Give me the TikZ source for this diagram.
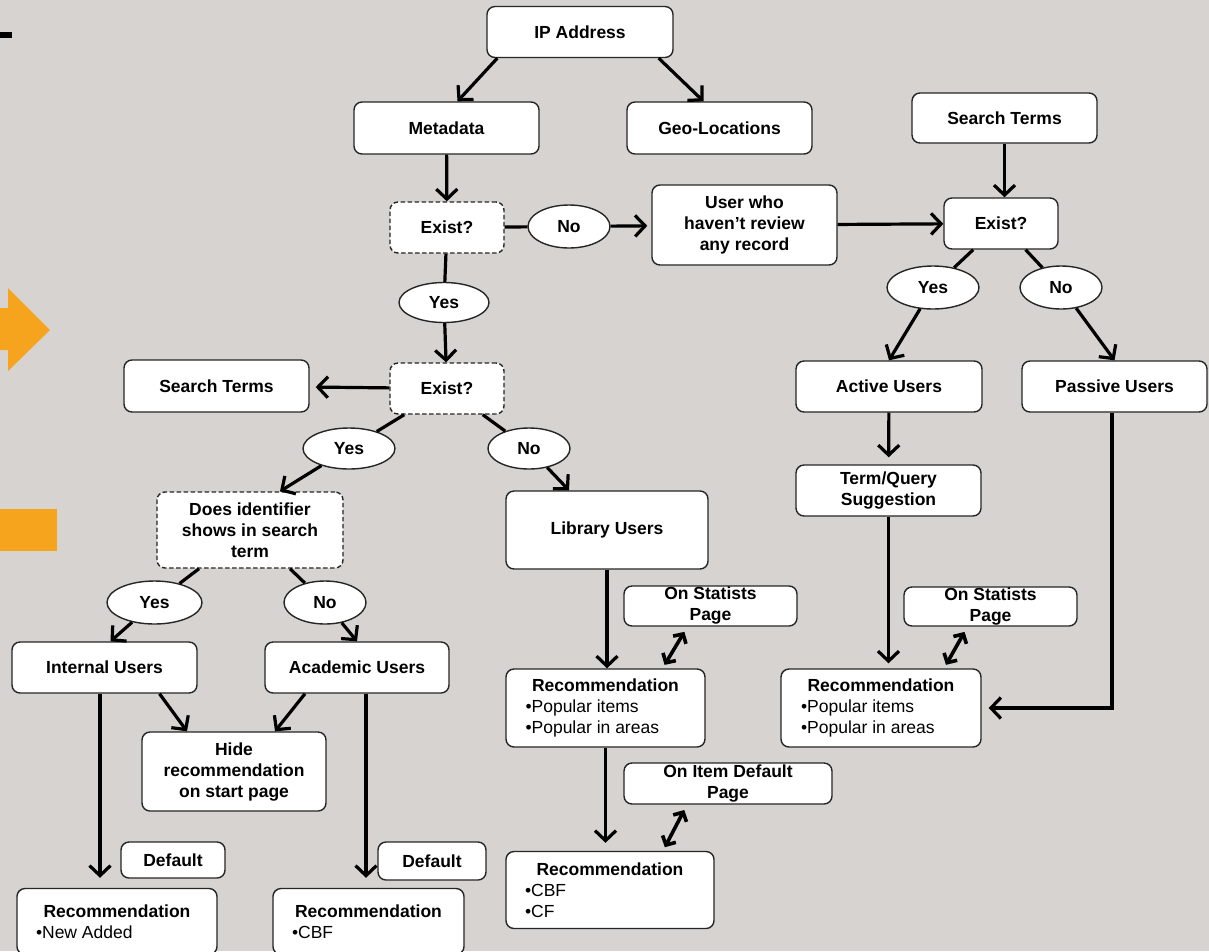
\documentclass[tikz,border=0pt]{standalone}
\usepackage{fontspec}
\setmainfont{Liberation Sans}
\usepackage{xcolor}
\usepackage{tikz}
\usetikzlibrary{arrows.meta,shapes.geometric}
\definecolor{slide}{RGB}{214,211,208}
\definecolor{accent}{RGB}{246,164,30}
\newcommand{\recbody}[2]{\parbox{#1}{\centering\textbf{Recommendation}\par\raggedright#2}}
\tikzset{
  box/.style={draw=black!85,fill=white,line width=1.4pt,rounded corners=8pt,inner sep=0pt,align=center,
    font=\fontsize{17.5}{21}\selectfont\bfseries},
  qbox/.style={box,dash pattern=on 4.5pt off 2.5pt},
  recbox/.style={box,font=\fontsize{17.5}{21}\selectfont},
  oval/.style={ellipse,draw=black!85,fill=white,line width=1.4pt,inner sep=0pt,minimum height=43pt,
    font=\fontsize{17.5}{21}\selectfont\bfseries},
  link/.style={line width=3.2pt},
  flow/.style={link,-{Straight Barb[length=10pt,width=21pt]}},
  twoway/.style={line width=3.6pt,{Straight Barb[length=7pt,width=15pt]}-{Straight Barb[length=7pt,width=15pt]},
    shorten <=4pt,shorten >=6pt}
}
\begin{document}
\begin{tikzpicture}[x=1pt,y=-1pt]
  \useasboundingbox (0,0) rectangle (1209,951);
  \clip (0,0) rectangle (1209,951);
  \fill[slide] (0,0) rectangle (1209,951);
  \fill[black] (0,32) rectangle (12,38);
  \fill[accent] (0,308) -- (8,308) -- (8,288) -- (50,330) -- (8,371) -- (8,350) -- (0,350) -- cycle;
  \fill[accent] (0,509) rectangle (57,551);

  \node[box,minimum width=186pt,minimum height=51pt] (ip) at (580,32) {IP Address};
  \node[box,minimum width=185pt,minimum height=52pt] (meta) at (446.5,128) {Metadata};
  \node[box,minimum width=185pt,minimum height=52pt] (geo) at (719.5,128) {Geo-Locations};
  \node[qbox,minimum width=114pt,minimum height=51pt] (exA) at (447,227.5) {Exist?};
  \node[oval,minimum width=82pt] (noA) at (569,226.5) {No};
  \node[box,minimum width=185pt,minimum height=80pt] (guest) at (744.5,225) {User who\\haven’t review\\any record};
  \node[box,minimum width=185pt,minimum height=50pt] (termR) at (1004.5,118) {Search Terms};
  \node[box,minimum width=114pt,minimum height=51pt] (exR) at (1001,223.5) {Exist?};
  \node[oval,minimum width=92pt] (yesR) at (933,287.5) {Yes};
  \node[oval,minimum width=82pt] (noR) at (1061,287.5) {No};
  \node[box,minimum width=186pt,minimum height=51pt] (active) at (889,386.5) {Active Users};
  \node[box,minimum width=185pt,minimum height=51pt] (passive) at (1114.5,386.5) {Passive Users};
  \node[oval,minimum width=90pt,minimum height=40pt] (yesA) at (444,302.5) {Yes};
  \node[qbox,minimum width=114pt,minimum height=51pt] (exB) at (447,388.5) {Exist?};
  \node[box,minimum width=185pt,minimum height=52pt] (termL) at (216.5,386) {Search Terms};
  \node[oval,minimum width=92pt,minimum height=41pt] (yesB) at (349,448.5) {Yes};
  \node[oval,minimum width=82pt,minimum height=41pt] (noB) at (529,448.5) {No};
  \node[qbox,minimum width=186pt,minimum height=76pt] (ident) at (250,530) {Does identifier\\shows in search\\term};
  \node[box,minimum width=202pt,minimum height=78pt] (library) at (607,530) {Library Users};
  \node[oval,minimum width=95pt] (yesC) at (154.5,602.5) {Yes};
  \node[oval,minimum width=82pt] (noC) at (325,602.5) {No};
  \node[box,minimum width=185pt,minimum height=51pt] (internal) at (104.5,667.5) {Internal Users};
  \node[box,minimum width=184pt,minimum height=51pt] (academic) at (357,667.5) {Academic Users};
  \node[box,minimum width=184pt,minimum height=79pt] (hide) at (234,771.5) {Hide\\recommendation\\on start page};
  \node[box,minimum width=104pt,minimum height=36pt] (defA) at (173,860) {Default};
  \node[box,minimum width=108pt,minimum height=38pt] (defB) at (432,861) {Default};
  \node[recbox,minimum width=200pt,minimum height=66pt] (recA) at (117,921.5) {\recbody{162pt}{•New Added}};
  \node[recbox,minimum width=191pt,minimum height=66pt] (recB) at (368.5,921.5) {\recbody{153pt}{•CBF}};
  \node[box,minimum width=173pt,minimum height=40pt] (statA) at (710.5,606) {On Statists\\Page};
  \node[recbox,minimum width=199pt,minimum height=78pt] (recC) at (605.5,708) {\recbody{160pt}{•Popular items\\•Popular in areas}};
  \node[box,minimum width=208pt,minimum height=41pt] (itempage) at (728,783.5) {On Item Default\\Page};
  \node[recbox,minimum width=208pt,minimum height=77pt] (recD) at (610,890) {\recbody{170pt}{•CBF\\•CF}};
  \node[box,minimum width=185pt,minimum height=51pt] (suggest) at (888.5,490.5) {Term/Query\\Suggestion};
  \node[box,minimum width=173pt,minimum height=39pt] (statB) at (990.5,606.5) {On Statists\\Page};
  \node[recbox,minimum width=200pt,minimum height=78pt] (recE) at (881,708) {\recbody{160pt}{•Popular items\\•Popular in areas}};

  \draw[flow] ([xshift=11pt]ip.south west) -- ([xshift=11pt]meta.north);
  \draw[flow] ([xshift=-15pt]ip.south east) -- ([xshift=-16pt]geo.north);
  \draw[flow] (meta) -- (exA);
  \draw[link] (exA) -- (noA);
  \draw[flow,shorten >=4pt] (noA) -- (guest);
  \draw[flow] (guest) -- (exR);
  \draw[flow] (termR) -- (termR |- exR.north);
  \draw[link] (exR) -- (yesR);
  \draw[flow] (yesR) -- (active.north);
  \draw[link] (exR) -- (noR);
  \draw[flow] (noR) -- (passive.north);
  \draw[flow,shorten >=7pt] (active) -- (suggest);
  \draw[flow,shorten >=5pt] (suggest.south) -- (suggest.south |- recE.north);
  \draw[flow,shorten >=7pt] ([xshift=-2.5pt]passive.south) |- (recE.east);
  \draw[twoway] ([xshift=63pt]recE.north) -- ([xshift=-23pt]statB.south);
  \draw[link] (exA) -- (yesA);
  \draw[flow] (yesA) -- (exB);
  \draw[flow,shorten >=6pt] (exB) -- (termL);
  \draw[link] (exB) -- (yesB);
  \draw[flow] (yesB) -- ([xshift=30pt]ident.north);
  \draw[link] (exB) -- (noB);
  \draw[flow] (noB) -- (library);
  \draw[flow] (library) -- (library.south |- recC.north);
  \draw[twoway] ([xshift=57pt]recC.north) -- ([xshift=-23pt]statA.south);
  \draw[flow,shorten >=8pt] (recC.south) -- (recC.south |- recD.north);
  \draw[twoway] ([xshift=53pt]recD.north) -- ([xshift=-41pt]itempage.south);
  \draw[link] (ident) -- (yesC);
  \draw[flow] (yesC) -- ([xshift=6pt]internal.north);
  \draw[link] (ident) -- (noC);
  \draw[flow] (noC) -- (academic.north);
  \draw[flow] ([xshift=55pt]internal.south) -- ([xshift=-47pt]hide.north);
  \draw[flow] ([xshift=-52pt]academic.south) -- ([xshift=41pt]hide.north);
  \draw[flow,shorten >=10pt] ([xshift=-4.5pt]internal.south) -- ([xshift=-4.5pt]internal.south |- recA.north);
  \draw[flow,shorten >=10pt] ([xshift=9pt]academic.south) -- ([xshift=9pt]academic.south |- recB.north);
\end{tikzpicture}
\end{document}
